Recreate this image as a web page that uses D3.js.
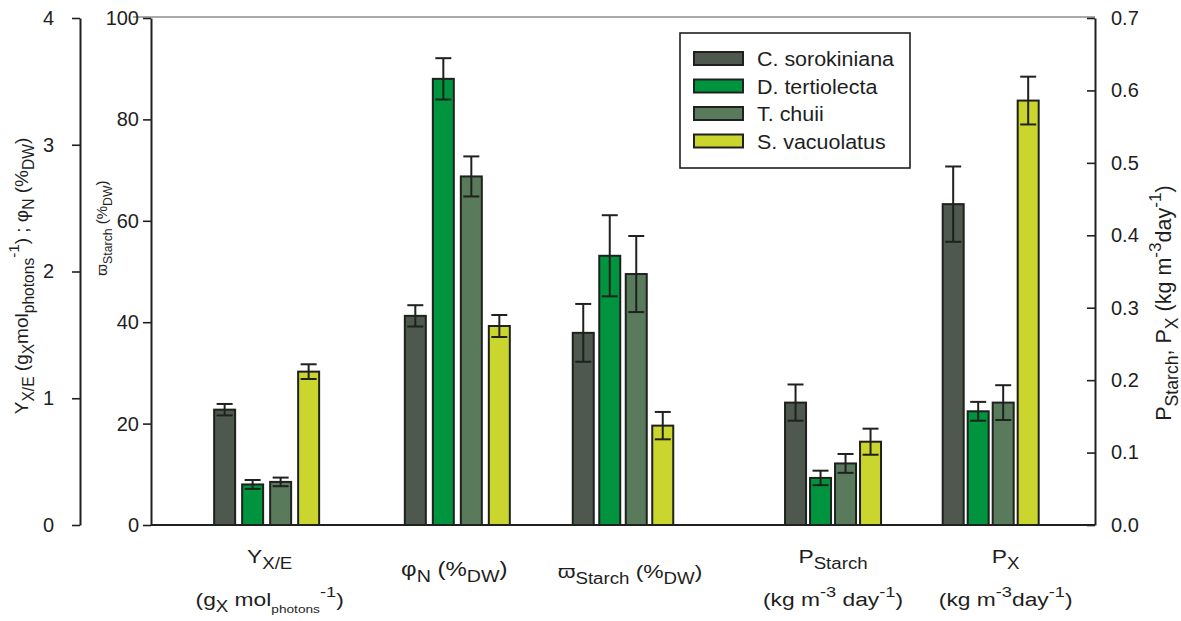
<!DOCTYPE html>
<html>
<head>
<meta charset="utf-8">
<script src="https://cdn.jsdelivr.net/npm/d3@7"></script>
<style>
  html, body { margin: 0; padding: 0; background: #fff; }
  svg { display: block; font-family: "Liberation Sans", Arial, sans-serif; }
</style>
</head>
<body>
<svg id="chart" width="1181" height="621"></svg>
<script>
// ---- data -------------------------------------------------------------
const species = ["C. sorokiniana", "D. tertiolecta", "T. chuii", "S. vacuolatus"];
const metrics = ["YXE", "phiN", "starch", "PStarch", "PX"];
// which y axis each metric is read against
const metricAxis = ["left", "left", "inner", "right", "right"];

// mean values per species, in metric order
const cSorokiniana = [0.91, 1.65, 37.9, 0.169, 0.443];
const dTertiolecta = [0.32, 3.52, 53.1, 0.065, 0.157];
const tChuii       = [0.34, 2.75, 49.5, 0.085, 0.169];
const sVacuolatus  = [1.21, 1.57, 19.6, 0.115, 0.586];

// standard deviations per species, in metric order
const cSorokinianaErr = [0.045, 0.084, 5.7, 0.025, 0.052];
const dTertiolectaErr = [0.035, 0.163, 8.0, 0.010, 0.013];
const tChuiiErr       = [0.034, 0.158, 7.5, 0.013, 0.024];
const sVacuolatusErr  = [0.058, 0.087, 2.7, 0.018, 0.033];

const leftTicks  = [0, 1, 2, 3, 4];
const innerTicks = [0, 20, 40, 60, 80, 100];
const rightTicks = [0, 0.1, 0.2, 0.3, 0.4, 0.5, 0.6, 0.7];

const colors = ["#4e584e", "#00943f", "#5a7a5c", "#cad62e"];

const means = [cSorokiniana, dTertiolecta, tChuii, sVacuolatus];
const errs  = [cSorokinianaErr, dTertiolectaErr, tChuiiErr, sVacuolatusErr];

// ---- layout -----------------------------------------------------------
const plot = { left: 151, right: 1095, top: 18, bottom: 525 };
const outerAxisX = 80;
// group centres along the category axis (0..10 units) and bar pitch (px)
const groupSlot  = [1.225, 3.245, 5.0, 7.225, 8.895];
const groupPitch = [28, 28, 26.5, 25, 25];
const barWidth   = 21;

const svg = d3.select("#chart");
const x = d3.scaleLinear().domain([0, 10]).range([plot.left, plot.right]);
const yLeft  = d3.scaleLinear().domain([0, 4]).range([plot.bottom, plot.top]);
const yInner = d3.scaleLinear().domain([0, 100]).range([plot.bottom, plot.top]);
const yRight = d3.scaleLinear().domain([0, 0.7]).range([plot.bottom, plot.top]);
const yFor = { left: yLeft, inner: yInner, right: yRight };

// text with sub/superscripts: parts = [[text, kind], ...]
function rich(sel, parts, size) {
  const spec = {
    n:   { s: 1.0,  off: 0 },
    sub: { s: 0.82, off: 0.32 },
    sub2:{ s: 0.6,  off: 0.38 },
    sup: { s: 0.8,  off: -0.48 }
  };
  let cur = 0;
  parts.forEach(([t, k]) => {
    const sp = spec[k];
    const target = sp.off * size;
    sel.append("tspan")
      .attr("font-size", sp.s * size)
      .attr("dy", target - cur)
      .text(t);
    cur = target;
  });
  return sel;
}

// ---- frame ------------------------------------------------------------
svg.append("line")
  .attr("x1", 133).attr("x2", plot.right)
  .attr("y1", plot.top - 1).attr("y2", plot.top - 1)
  .attr("stroke", "#555").attr("stroke-width", 1);

// ---- bars -------------------------------------------------------------
const bars = [];
metrics.forEach((m, gi) => {
  const half = (groupPitch[gi] * 4 - (groupPitch[gi] - barWidth)) / 2;
  const inner = d3.scaleBand().domain(species)
    .range([-half, half])
    .paddingInner((groupPitch[gi] - barWidth) / groupPitch[gi]);
  const y = yFor[metricAxis[gi]];
  species.forEach((s, si) => {
    bars.push({
      x0: x(groupSlot[gi]) + inner(s),
      w: inner.bandwidth(),
      v: means[si][gi], e: errs[si][gi], y: y, color: colors[si]
    });
  });
});

const g = svg.append("g");
g.selectAll("rect.bar").data(bars).join("rect")
  .attr("class", "bar")
  .attr("x", d => d.x0).attr("width", d => d.w)
  .attr("y", d => d.y(d.v)).attr("height", d => plot.bottom - d.y(d.v))
  .attr("fill", d => d.color)
  .attr("stroke", "#1e211e").attr("stroke-width", 2);

// error bars
const eb = g.selectAll("g.err").data(bars).join("g").attr("class", "err")
  .attr("stroke", "#1e211e").attr("stroke-width", 2);
eb.append("line")
  .attr("x1", d => d.x0 + d.w / 2).attr("x2", d => d.x0 + d.w / 2)
  .attr("y1", d => d.y(d.v + d.e)).attr("y2", d => d.y(d.v - d.e));
eb.append("line")
  .attr("x1", d => d.x0 + d.w / 2 - 8).attr("x2", d => d.x0 + d.w / 2 + 8)
  .attr("y1", d => d.y(d.v + d.e)).attr("y2", d => d.y(d.v + d.e));
eb.append("line")
  .attr("x1", d => d.x0 + d.w / 2 - 8).attr("x2", d => d.x0 + d.w / 2 + 8)
  .attr("y1", d => d.y(d.v - d.e)).attr("y2", d => d.y(d.v - d.e));

// baseline
svg.append("line")
  .attr("x1", plot.left).attr("x2", plot.right)
  .attr("y1", plot.bottom).attr("y2", plot.bottom)
  .attr("stroke", "#1e211e").attr("stroke-width", 2.2);

// ---- axes -------------------------------------------------------------
function styleAxis(sel) {
  sel.select(".domain").attr("stroke", "#1e211e").attr("stroke-width", 2);
  sel.selectAll(".tick line").attr("stroke", "#1e211e").attr("stroke-width", 1.6);
  sel.selectAll(".tick text").attr("font-size", 20).attr("fill", "#1e1e1e")
    .attr("font-family", "Liberation Sans, Arial, sans-serif");
}

svg.append("g").attr("transform", `translate(${outerAxisX},0)`)
  .call(d3.axisLeft(yLeft).tickValues(leftTicks).tickSize(8).tickSizeOuter(0).tickPadding(18)
    .tickFormat(d3.format("d")))
  .call(styleAxis);

svg.append("g").attr("transform", `translate(${plot.left},0)`)
  .call(d3.axisLeft(yInner).tickValues(innerTicks).tickSize(8).tickSizeOuter(0).tickPadding(4)
    .tickFormat(d3.format("d")))
  .call(styleAxis);

svg.append("g").attr("transform", `translate(${plot.right},0)`)
  .call(d3.axisRight(yRight).tickValues(rightTicks).tickSizeInner(-8).tickSizeOuter(0).tickPadding(16)
    .tickFormat(d3.format(".1f")))
  .call(styleAxis);

// ---- axis titles --------------------------------------------------------
rich(svg.append("text")
  .attr("transform", "translate(28,276) rotate(-90)")
  .attr("text-anchor", "middle").attr("fill", "#1e1e1e"),
  [["Y", "n"], ["X/E", "sub"], [" (g", "n"], ["X", "sub"], ["mol", "n"], ["photons", "sub"],
   ["-1", "sup"], [") ; φ", "n"], ["N", "sub"], [" (%", "n"], ["DW", "sub"], [")", "n"]], 19);

rich(svg.append("text")
  .attr("transform", "translate(107,228) rotate(-90)")
  .attr("text-anchor", "middle").attr("fill", "#1e1e1e"),
  [["ϖ", "n"], ["Starch", "sub"], [" (%", "n"], ["DW", "sub"], [")", "n"]], 15);

rich(svg.append("text")
  .attr("transform", "translate(1171,303) rotate(-90)")
  .attr("text-anchor", "middle").attr("fill", "#1e1e1e"),
  [["P", "n"], ["Starch", "sub"], [", P", "n"], ["X", "sub"], [" (kg m", "n"], ["-3", "sup"],
   ["day", "n"], ["-1", "sup"], [")", "n"]], 21.5);

// ---- category labels ----------------------------------------------------
const catLabels = [
  [[["Y", "n"], ["X/E", "sub"]],
   [["(g", "n"], ["X", "sub"], [" mol", "n"], ["photons", "sub2"], ["-1", "sup"], [")", "n"]]],
  [[["φ", "n"], ["N", "sub"], [" (%", "n"], ["DW", "sub"], [")", "n"]]],
  [[["ϖ", "n"], ["Starch", "sub"], [" (%", "n"], ["DW", "sub"], [")", "n"]]],
  [[["P", "n"], ["Starch", "sub"]],
   [["(kg m", "n"], ["-3", "sup"], [" day", "n"], ["-1", "sup"], [")", "n"]]],
  [[["P", "n"], ["X", "sub"]],
   [["(kg m", "n"], ["-3", "sup"], ["day", "n"], ["-1", "sup"], [")", "n"]]]
];
const labelShift = [3, -3, 7, 0, 15];
const lineBase = [[563, 606], [576], [578], [563, 606], [563, 606]];

// category text is set slightly condensed vertically relative to width
catLabels.forEach((lines, gi) => {
  lines.forEach((parts, li) => {
    const cx = x(groupSlot[gi]) + labelShift[gi];
    rich(svg.append("text")
      .attr("transform", `translate(${cx},${lineBase[gi][li]}) scale(1.2,1)`)
      .attr("text-anchor", "middle").attr("fill", "#1e1e1e"),
      parts, gi === 1 ? 20 : 19);
  });
});

// ---- legend -------------------------------------------------------------
const legend = svg.append("g").attr("transform", "translate(680,33)");
legend.append("rect").attr("width", 230).attr("height", 135)
  .attr("fill", "#fff").attr("stroke", "#1e211e").attr("stroke-width", 1.6);
const items = legend.selectAll("g.item").data(species).join("g")
  .attr("class", "item")
  .attr("transform", (d, i) => `translate(14,${19 + i * 27.5})`);
items.append("rect").attr("width", 49).attr("height", 13)
  .attr("fill", (d, i) => colors[i])
  .attr("stroke", "#1e211e").attr("stroke-width", 2);
items.append("text")
  .attr("transform", "translate(63,14) scale(1.1,1)")
  .attr("font-size", 19.5).attr("fill", "#1e1e1e").text(d => d);
</script>
</body>
</html>
